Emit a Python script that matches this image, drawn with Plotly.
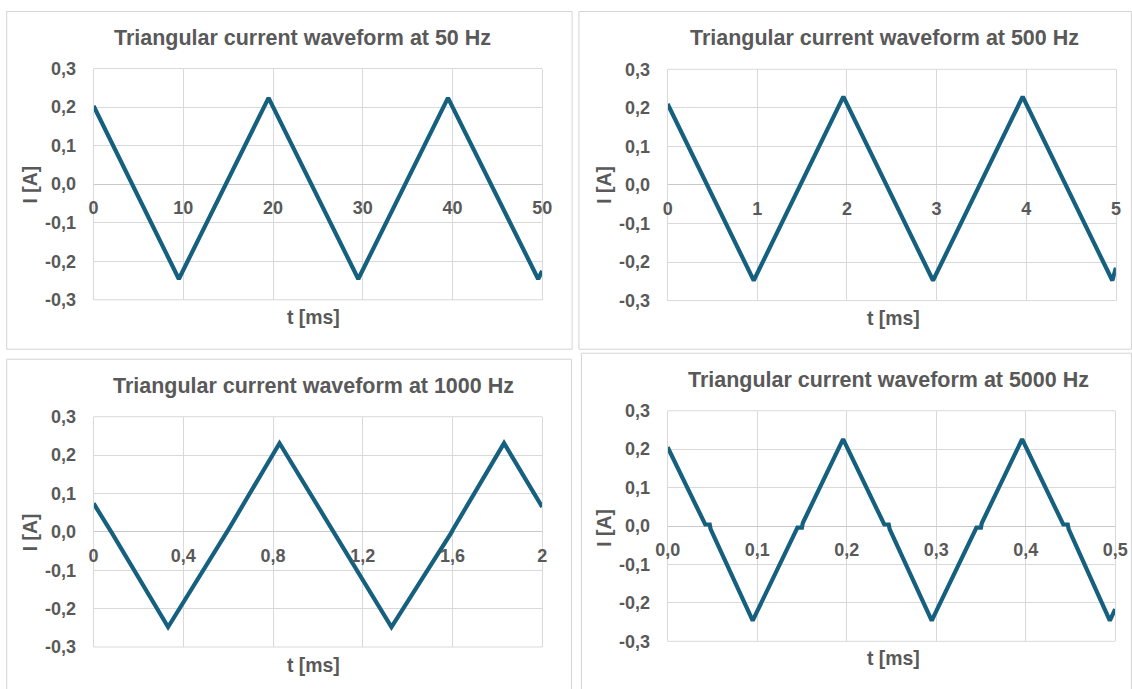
import plotly.graph_objects as go

# ---------------- data ----------------
t_50 = [0, 9.5, 19.5, 29.5, 39.5, 49.55, 50]
i_50 = [0.203, -0.246, 0.224, -0.246, 0.224, -0.246, -0.225]

t_500 = [0, 0.96, 1.96, 2.96, 3.96, 4.96, 5]
i_500 = [0.210, -0.248, 0.229, -0.248, 0.229, -0.248, -0.215]

t_1000 = [0, 0.076, 0.082, 0.332, 0.597, 0.603, 0.829, 1.065, 1.072, 1.328, 1.595, 1.601, 1.83, 2]
i_1000 = [0.074, 0.003, -0.003, -0.248, 0.002, 0.008, 0.231, 0.004, -0.004, -0.248, -0.002, 0.005, 0.231, 0.065]

t_5000 = [0, 0.042, 0.047, 0.048, 0.095, 0.145, 0.150, 0.151, 0.196, 0.242, 0.247, 0.248,
          0.295, 0.345, 0.350, 0.351, 0.396, 0.442, 0.447, 0.448, 0.494, 0.5]
i_5000 = [0.205, 0.004, 0.004, -0.008, -0.246, -0.004, -0.004, 0.008, 0.226, 0.004, 0.004, -0.008,
          -0.246, -0.004, -0.004, 0.008, 0.226, 0.004, 0.004, -0.008, -0.246, -0.216]

titles = ["Triangular current waveform at 50 Hz", "Triangular current waveform at 500 Hz",
          "Triangular current waveform at 1000 Hz", "Triangular current waveform at 5000 Hz"]
x_ticks = [[0, 10, 20, 30, 40, 50], [0, 1, 2, 3, 4, 5],
           [0, 0.4, 0.8, 1.2, 1.6, 2], [0, 0.1, 0.2, 0.3, 0.4, 0.5]]
x_tick_text = [["0", "10", "20", "30", "40", "50"], ["0", "1", "2", "3", "4", "5"],
               ["0", "0,4", "0,8", "1,2", "1,6", "2"], ["0,0", "0,1", "0,2", "0,3", "0,4", "0,5"]]
y_ticks = [-0.3, -0.2, -0.1, 0.0, 0.1, 0.2, 0.3]
y_tick_text = ["-0,3", "-0,2", "-0,1", "0,0", "0,1", "0,2", "0,3"]
x_title = "t [ms]"
y_title = "I [A]"

# ---------------- layout geometry (target pixels in the photo) ----------------
W, H = 1132, 689
# calibration between page pixels and photographed pixels (measured)
SX, CX, SY, CY = 0.978, 12.0, 0.974, 8.0
plot_px = [  # x0, x1, y_top, y_bottom
    (92.7, 541.7, 66.7, 298.7),
    (667.3, 1116.0, 67.5, 299.5),
    (92.7, 541.7, 416.0, 647.0),
    (667.3, 1115.3, 410.0, 641.3),
]
title_px = [(302, 36), (884, 36), (313, 385), (888, 379)]
xtitle_px = [(313, 316), (893, 317), (313, 665), (893, 658)]
ytitle_px = [(29, 183), (604, 183), (29, 532), (604, 527)]
borders_px = [(5.7, 571.7, 9.5, 348.3), (578.5, 1131.5, 9.5, 348.3),
              (5.7, 571.0, 358.3, 700), (581.0, 1131.5, 352.3, 700)]

def fx(px):
    return ((px - CX) / SX) / W

def fy(py):
    return 1 - ((py - CY) / SY) / H

def fs(size):
    return size / SX

LINE = "#16607f"
GRID = "#d9d9d9"
TXT = "#595959"
FONT = "Liberation Sans, Arial, sans-serif"

fig = go.Figure()
series = [(t_50, i_50), (t_500, i_500), (t_1000, i_1000), (t_5000, i_5000)]

for k, (tx, iy) in enumerate(series):
    n = "" if k == 0 else str(k + 1)
    fig.add_trace(go.Scatter(x=tx, y=iy, mode="lines", xaxis="x" + n, yaxis="y" + n,
                             line=dict(color=LINE, width=4.2), showlegend=False,
                             hoverinfo="x+y"))
    x0, x1, yt, yb = plot_px[k]
    xr = [x_ticks[k][0], x_ticks[k][-1]]
    zero_pos = (fy(yt) + fy(yb)) / 2
    fig.update_layout(**{
        "xaxis" + n: dict(domain=[fx(x0), fx(x1)], range=xr, anchor="free", position=zero_pos,
                          tickvals=x_ticks[k], ticktext=x_tick_text[k],
                          showgrid=True, gridcolor=GRID, gridwidth=1,
                          zeroline=False, showline=False, ticks="",
                          ticklabelstandoff=11,
                          tickfont=dict(family=FONT, size=fs(17.6), color=TXT, weight="bold")),
        "yaxis" + n: dict(domain=[fy(yb), fy(yt)], range=[-0.3, 0.3], anchor="x" + n,
                          tickvals=y_ticks, ticktext=y_tick_text,
                          showgrid=True, gridcolor=GRID, gridwidth=1,
                          zeroline=True, zerolinecolor="#c9c9c9", zerolinewidth=1.3,
                          showline=True, linecolor=GRID, mirror=True, ticks="",
                          ticklabelstandoff=13,
                          tickfont=dict(family=FONT, size=fs(17.6), color=TXT, weight="bold")),
    })
    fig.add_shape(type="line", xref="paper", yref="paper", x0=fx(x0), x1=fx(x1),
                  y0=fy(yt), y1=fy(yt), line=dict(color=GRID, width=1))
    fig.add_shape(type="line", xref="paper", yref="paper", x0=fx(x0), x1=fx(x1),
                  y0=fy(yb), y1=fy(yb), line=dict(color=GRID, width=1))
    bx0, bx1, by0, by1 = borders_px[k]
    fig.add_shape(type="rect", xref="paper", yref="paper", x0=fx(bx0), x1=fx(bx1),
                  y0=fy(by1), y1=fy(by0), line=dict(color="#d4d4d4", width=1), layer="below")
    tx_, ty_ = title_px[k]
    fig.add_annotation(text=titles[k], x=fx(tx_), y=fy(ty_), xref="paper", yref="paper",
                       showarrow=False, xanchor="center", yanchor="middle",
                       font=dict(family=FONT, size=fs(21), color=TXT, weight="bold"))
    ax_, ay_ = xtitle_px[k]
    fig.add_annotation(text=x_title, x=fx(ax_), y=fy(ay_), xref="paper", yref="paper",
                       showarrow=False, xanchor="center", yanchor="middle",
                       font=dict(family=FONT, size=fs(19), color=TXT, weight="bold"))
    yx_, yy_ = ytitle_px[k]
    fig.add_annotation(text=y_title, x=fx(yx_), y=fy(yy_), xref="paper", yref="paper",
                       showarrow=False, xanchor="center", yanchor="middle", textangle=-90,
                       font=dict(family=FONT, size=fs(19), color=TXT, weight="bold"))

fig.update_layout(width=W, height=H, margin=dict(l=0, r=0, t=0, b=0),
                  paper_bgcolor="white", plot_bgcolor="white", separators=",.")

fig.write_html("out.html", config={"displayModeBar": False},
               post_script="document.body.style.margin='0';document.body.style.overflow='hidden';")
